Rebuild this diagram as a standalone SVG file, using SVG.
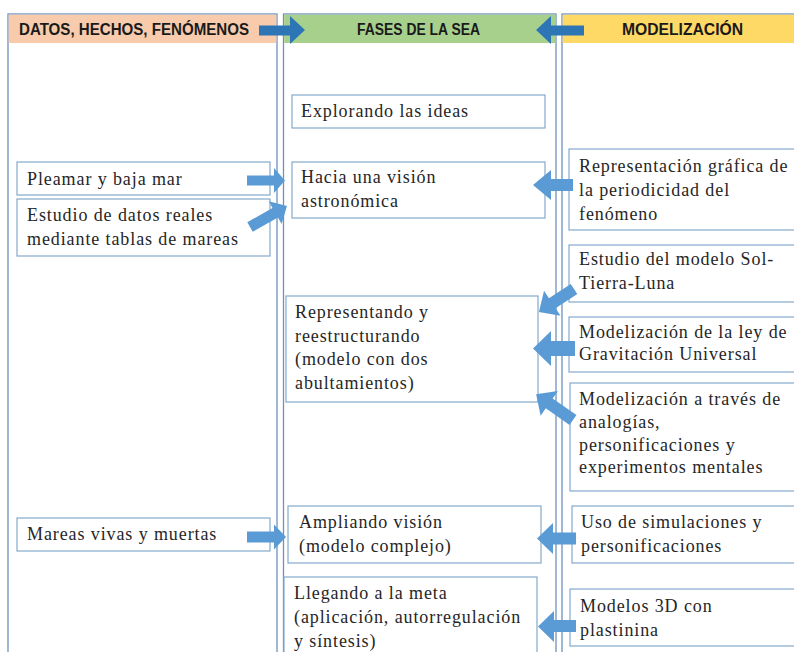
<svg xmlns="http://www.w3.org/2000/svg" width="794" height="652" viewBox="0 0 794 652">
<style>
.col{fill:#fff;stroke:#6E92BC;stroke-width:1.3}
.box{fill:#fff;stroke:#84A9CC;stroke-width:1.2}
.hd{font-family:"Liberation Sans",Arial,sans-serif;font-weight:bold;font-size:16px;fill:#1a1a1a}
.t{font-family:"Liberation Serif","Times New Roman",serif;font-size:18px;letter-spacing:0.9px;fill:#262626}
.arr{fill:#5B9BD5}
.harr{fill:#2E75B6}
</style>
<rect width="794" height="652" fill="#fff"/>
<g id="col-datos">
<rect class="col" x="8" y="14" width="269" height="660"/>
<rect x="8.7" y="14.7" width="267.6" height="28.3" fill="#F7CBAC"/>
<text class="hd" x="19" y="34.5" textLength="230" lengthAdjust="spacingAndGlyphs">DATOS, HECHOS, FENÓMENOS</text>
</g>
<g id="col-fases">
<rect class="col" x="283.5" y="14" width="272.5" height="660"/>
<rect x="284.2" y="14.7" width="271.1" height="28.3" fill="#A8D08D"/>
<text class="hd" x="357" y="34.5" textLength="123" lengthAdjust="spacingAndGlyphs">FASES DE LA SEA</text>
</g>
<g id="col-modelizacion">
<rect class="col" x="562" y="14" width="260" height="660"/>
<rect x="562.7" y="14.7" width="240" height="28.3" fill="#FFD965"/>
<text class="hd" x="622" y="34.5" textLength="121" lengthAdjust="spacingAndGlyphs">MODELIZACIÓN</text>
</g>

<g id="n-pleamar"><rect class="box" x="17" y="162" width="253" height="33"/>
<text class="t" x="27" y="185">Pleamar y baja mar</text></g>
<g id="n-estudio-datos"><rect class="box" x="17" y="199" width="253" height="57"/>
<text class="t" x="27" y="221">Estudio de datos reales</text>
<text class="t" x="27" y="245">mediante tablas de mareas</text></g>
<g id="n-mareas"><rect class="box" x="17" y="518" width="253" height="33"/>
<text class="t" x="27" y="540">Mareas vivas y muertas</text></g>

<g id="n-explorando"><rect class="box" x="292" y="95" width="253" height="33"/>
<text class="t" x="301" y="117">Explorando las ideas</text></g>
<g id="n-hacia"><rect class="box" x="292" y="162" width="253" height="56"/>
<text class="t" x="301" y="183">Hacia una visión</text>
<text class="t" x="301" y="207">astronómica</text></g>
<g id="n-representando"><rect class="box" x="286" y="296" width="252" height="106"/>
<text class="t" x="295" y="318">Representando y</text>
<text class="t" x="295" y="341.5">reestructurando</text>
<text class="t" x="295" y="365">(modelo con dos</text>
<text class="t" x="295" y="388.5">abultamientos)</text></g>
<g id="n-ampliando"><rect class="box" x="288" y="506" width="253" height="57"/>
<text class="t" x="299" y="528">Ampliando visión</text>
<text class="t" x="299" y="552">(modelo complejo)</text></g>
<g id="n-llegando"><rect class="box" x="284" y="577" width="253" height="90"/>
<text class="t" x="294" y="599">Llegando a la meta</text>
<text class="t" x="294" y="623">(aplicación, autorregulación</text>
<text class="t" x="294" y="647">y síntesis)</text></g>

<g id="n-representacion"><rect class="box" x="569" y="149" width="240" height="81"/>
<text class="t" x="579" y="172">Representación gráfica de</text>
<text class="t" x="579" y="196">la periodicidad del</text>
<text class="t" x="579" y="220">fenómeno</text></g>
<g id="n-sol-tierra-luna"><rect class="box" x="569" y="245" width="240" height="57"/>
<text class="t" x="579" y="265">Estudio del modelo Sol-</text>
<text class="t" x="579" y="289">Tierra-Luna</text></g>
<g id="n-gravitacion"><rect class="box" x="569" y="317" width="240" height="55"/>
<text class="t" x="579" y="337.5">Modelización de la ley de</text>
<text class="t" x="579" y="360">Gravitación Universal</text></g>
<g id="n-analogias"><rect class="box" x="570" y="383" width="240" height="108"/>
<text class="t" x="579" y="405">Modelización a través de</text>
<text class="t" x="579" y="428">analogías,</text>
<text class="t" x="579" y="451">personificaciones y</text>
<text class="t" x="579" y="473">experimentos mentales</text></g>
<g id="n-simulaciones"><rect class="box" x="572" y="506" width="240" height="57"/>
<text class="t" x="581" y="528">Uso de simulaciones y</text>
<text class="t" x="581" y="552">personificaciones</text></g>
<g id="n-plastinina"><rect class="box" x="570" y="589" width="240" height="57"/>
<text class="t" x="580" y="612">Modelos 3D con</text>
<text class="t" x="580" y="636">plastinina</text></g>

<g id="connectors">
<path class="harr" d="M259,25.5 L290,25.5 L290,16 L305,30 L290,44 L290,35.5 L259,35.5 Z"/>
<path class="harr" d="M584,25.5 L551,25.5 L551,16 L536,30 L551,44 L551,35.5 L584,35.5 Z"/>
<path class="arr" d="M247,175.5 L274,175.5 L274,168 L285,180.5 L274,193 L274,185.5 L247,185.5 Z"/>
<path class="arr" d="M247,531.5 L274,531.5 L274,524.5 L286,537 L274,549.5 L274,542.5 L247,542.5 Z"/>
<path class="arr" transform="translate(250,227) rotate(-29.6)" d="M0,-5.5 L29,-5.5 L29,-13 L42.5,0 L29,13 L29,5.5 L0,5.5 Z"/>
<path class="arr" d="M573,179 L551,179 L551,170 L533,185 L551,200 L551,191 L573,191 Z"/>
<path class="arr" transform="translate(574,289) rotate(146.7)" d="M0,-6 L26,-6 L26,-15 L42,0 L26,15 L26,6 L0,6 Z"/>
<path class="arr" d="M575,341 L551,341 L551,331 L533,348.5 L551,366 L551,356 L575,356 Z"/>
<path class="arr" transform="translate(573,420) rotate(-145)" d="M0,-6 L29,-6 L29,-15 L45,0 L29,15 L29,6 L0,6 Z"/>
<path class="arr" d="M576,532.5 L553,532.5 L553,523 L537,538.5 L553,554 L553,544.5 L576,544.5 Z"/>
<path class="arr" d="M576,620 L554,620 L554,611 L538,626.5 L554,642 L554,632 L576,632 Z"/>
</g>
</svg>
